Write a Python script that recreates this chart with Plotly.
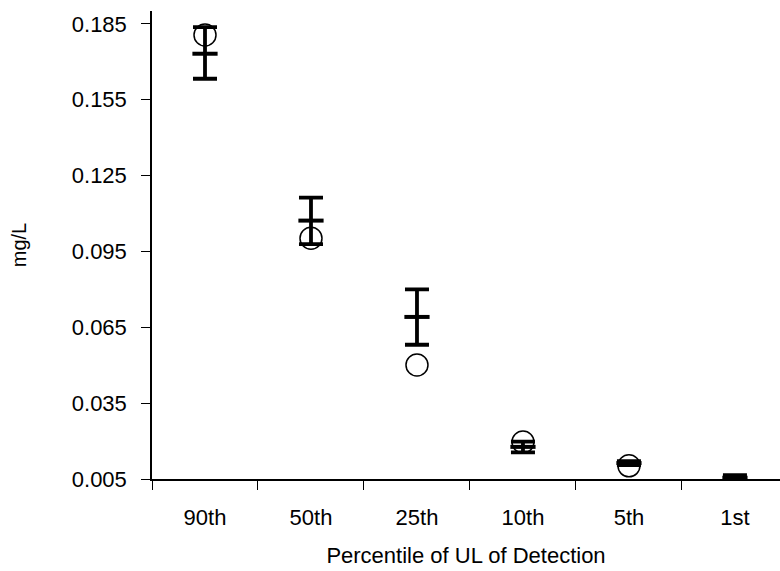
import plotly.graph_objects as go

categories = ["90th", "50th", "25th", "10th", "5th", "1st"]
observed = [0.1806, 0.1002, 0.0501, 0.0196, 0.0102, None]
est_mean = [0.1732, 0.1072, 0.0691, 0.0177, 0.0113, 0.0055]
est_upper = [0.1837, 0.1163, 0.0800, 0.0198, 0.0121, 0.0065]
est_lower = [0.1633, 0.0979, 0.0581, 0.0155, 0.0105, 0.0045]
y_ticks = [0.005, 0.035, 0.065, 0.095, 0.125, 0.155, 0.185]

FONT = "Liberation Sans, Arial, sans-serif"

fig = go.Figure()

fig.add_trace(go.Scatter(
    x=categories, y=observed, mode="markers",
    marker=dict(symbol="circle-open", size=22, color="black", line=dict(width=1.5, color="black")),
    cliponaxis=False, showlegend=False,
))

fig.add_trace(go.Scatter(
    x=categories, y=est_mean, mode="markers",
    marker=dict(symbol="line-ew", size=18, color="black", line=dict(width=4, color="black")),
    error_y=dict(
        type="data", symmetric=False,
        array=[u - m for u, m in zip(est_upper, est_mean)],
        arrayminus=[m - l for m, l in zip(est_mean, est_lower)],
        color="black", thickness=3.8, width=12,
    ),
    cliponaxis=False, showlegend=False,
))

fig.update_layout(
    width=780, height=571,
    margin=dict(l=152, r=0, t=11, b=92),
    paper_bgcolor="white", plot_bgcolor="white",
    font=dict(family=FONT, size=22, color="black"),
    xaxis=dict(
        type="category", categoryorder="array", categoryarray=categories,
        range=[-0.5, 5.425], tickson="boundaries",
        ticks="outside", ticklen=9, tickwidth=1.2, tickcolor="black",
        showline=True, linecolor="black", linewidth=1.5,
        showgrid=False, zeroline=False,
        tickfont=dict(size=22), ticklabelstandoff=18,
        title=dict(text="Percentile of UL of Detection", font=dict(size=22), standoff=18),
    ),
    yaxis=dict(
        range=[0.005, 0.1901], tickvals=y_ticks, tickformat=".3f",
        ticks="outside", ticklen=9, tickwidth=1.2, tickcolor="black",
        showline=True, linecolor="black", linewidth=1.5,
        showgrid=False, zeroline=False,
        tickfont=dict(size=22), ticklabelstandoff=10,
        title=dict(text="mg/L", font=dict(size=20), standoff=40),
    ),
)

fig.write_html("out.html")
